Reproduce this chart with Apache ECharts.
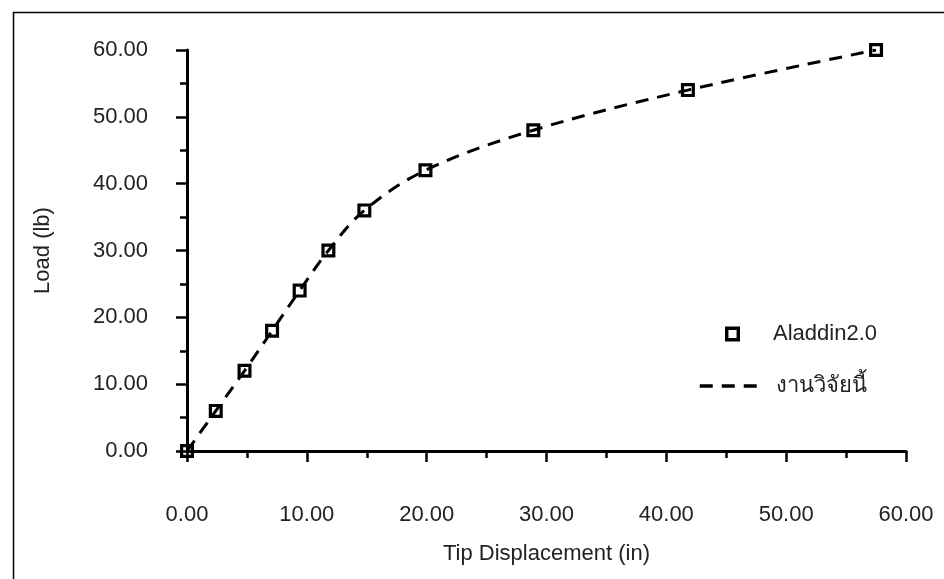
<!DOCTYPE html>
<html>
<head>
<meta charset="utf-8">
<script src="https://cdn.jsdelivr.net/npm/echarts@6/dist/echarts.min.js"></script>
<style>
html,body{margin:0;padding:0;background:#fff;}
#chart{width:944px;height:579px;}
</style>
</head>
<body>
<div id="chart"></div>
<script>
const dispX = [0, 2.4, 4.8, 7.1, 9.4, 11.8, 14.8, 19.9, 28.9, 41.8, 57.5];
const loadY = [0, 6, 12, 18, 24, 30, 36, 42, 48, 54, 60];
const seriesNames = ['Aladdin2.0', 'งานวิจัยนี้'];
const axisNames = ['Tip Displacement (in)', 'Load (lb)'];

const pts = dispX.map((x, i) => [x, loadY[i]]);
const FONT = '"Liberation Sans", Arial, sans-serif';
const TXT = '#222';
// hollow square ring symbol (outer clockwise, inner counter-clockwise)
const SQUARE = 'path://M0,0H14V14H0Z M3.2,3.2V10.8H10.8V3.2Z';

const chart = echarts.init(document.getElementById('chart'), null, {renderer: 'canvas'});

function axisCommon(name) {
  return {
    type: 'value', min: 0, max: 60, interval: 10,
    name: name, nameLocation: 'middle',
    nameTextStyle: {fontFamily: FONT, fontSize: 22, color: TXT},
    axisLine: {show: true, onZero: false, lineStyle: {color: '#000', width: 3}},
    axisTick: {show: true, inside: false, length: 11, lineStyle: {color: '#000', width: 2.5}},
    minorTick: {show: true, splitNumber: 2, length: 7, lineStyle: {color: '#000', width: 2.5}},
    splitLine: {show: false},
    minorSplitLine: {show: false},
    axisLabel: {fontFamily: FONT, fontSize: 22, color: TXT, formatter: v => v.toFixed(2)}
  };
}

const xAx = axisCommon(axisNames[0]);
xAx.nameGap = 92;
xAx.axisLabel.margin = 53;
const yAx = axisCommon(axisNames[1]);
yAx.nameGap = 133;
yAx.nameRotate = 90;
yAx.axisLabel.margin = 39;

const lineDash = [13, 9];

chart.setOption({
  animation: false,
  backgroundColor: '#fff',
  graphic: [{
    type: 'rect', left: 11, top: 10,
    shape: {width: 960, height: 600},
    style: {fill: 'none', stroke: '#000', lineWidth: 1.5},
    silent: true, z: -10
  }],
  grid: {left: 187, right: 38, top: 50, bottom: 128, containLabel: false},
  xAxis: xAx,
  yAxis: yAx,
  legend: [{
    data: [seriesNames[0]],
    left: 720, top: 318,
    itemWidth: 15, itemHeight: 15,
    textStyle: {fontFamily: FONT, fontSize: 22, color: TXT, padding: [0, 0, 0, 28]}
  }, {
    data: [seriesNames[1]],
    left: 693, top: 370,
    itemWidth: 57, itemHeight: 14,
    itemStyle: {opacity: 0},
    lineStyle: {color: '#000', width: 3.5, type: lineDash, opacity: 1},
    textStyle: {fontFamily: FONT, fontSize: 22, color: TXT, padding: [0, 0, 0, 14]}
  }],
  series: [{
    name: seriesNames[0],
    type: 'scatter',
    data: pts,
    symbol: SQUARE,
    symbolSize: 14,
    itemStyle: {color: '#000', borderWidth: 0, opacity: 1},
    z: 2
  }, {
    name: seriesNames[1],
    type: 'line',
    data: pts,
    smooth: 0.35,
    symbol: 'none',
    lineStyle: {color: '#000', width: 3, type: lineDash},
    itemStyle: {color: '#000'},
    z: 3
  }]
});
</script>
</body>
</html>
